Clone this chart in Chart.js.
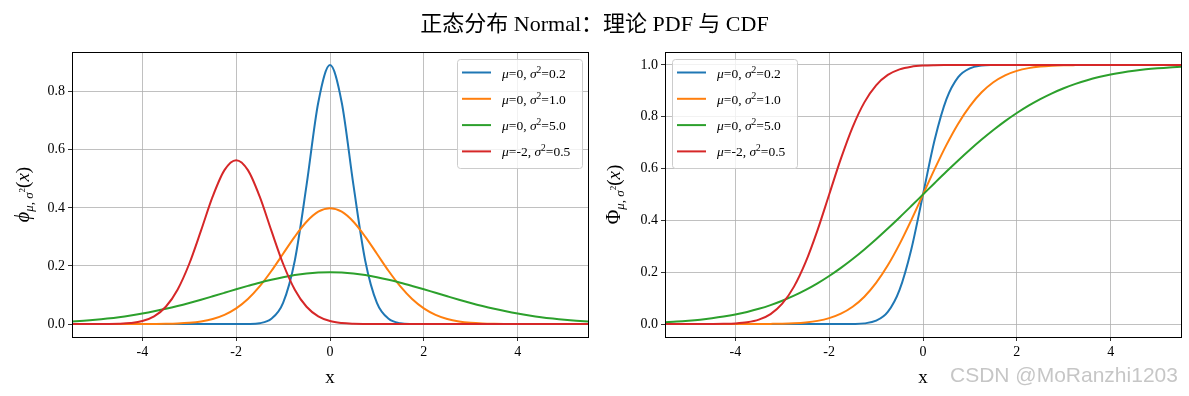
<!DOCTYPE html>
<html>
<head>
<meta charset="utf-8">
<script src="https://cdn.jsdelivr.net/npm/chart.js@4.4.1/dist/chart.umd.min.js"></script>
<style>
  body { margin: 0; background: #fff; }
  #wrap { position: relative; width: 1189px; height: 396px; overflow: hidden; }
  #title { position: absolute; left: 0; top: 5px; width: 1189px; text-align: center;
           font-family: "Liberation Serif", "Noto Sans CJK SC", serif; font-size: 22px; color: #000; }
  canvas { position: absolute; top: 0; }
  #pdf { left: 0; }
  #cdf { left: 594px; }
  #mark { position: absolute; left: 950px; top: 363px; font-family: "Liberation Sans", sans-serif;
          font-size: 21px; color: rgba(160,160,160,0.6); white-space: nowrap; }
</style>
</head>
<body>
<div id="wrap">
  <canvas id="pdf" width="600" height="396"></canvas>
  <canvas id="cdf" width="595" height="396"></canvas>
  <div id="title">正态分布 Normal：理论 PDF 与 CDF</div>
  <div id="mark">CSDN @MoRanzhi1203</div>
</div>
<script>
const xs = [-5.5, -5.25, -5, -4.75, -4.5, -4.25, -4, -3.75, -3.5, -3.25, -3, -2.75, -2.5, -2.25, -2, -1.75, -1.5, -1.25, -1, -0.75, -0.5, -0.25,
            0, 0.25, 0.5, 0.75, 1, 1.25, 1.5, 1.75, 2, 2.25, 2.5, 2.75, 3, 3.25, 3.5, 3.75, 4, 4.25, 4.5, 4.75, 5, 5.25, 5.5];

const seriesNames = [
    { mu: "0", s2: "0.2" },
    { mu: "0", s2: "1.0" },
    { mu: "0", s2: "5.0" },
    { mu: "-2", s2: "0.5" }
];
const colors = ["#1f77b4", "#ff7f0e", "#2ca02c", "#d62728"];

// PDF values
const pdfBlue = [0, 0, 0, 0, 0, 0, 0, 0, 0, 0, 0, 0, 0, 0, 0, 0.0004, 0.003, 0.018, 0.073, 0.219, 0.478, 0.763,
                 0.892, 0.763, 0.478, 0.219, 0.073, 0.018, 0.003, 0.0004, 0, 0, 0, 0, 0, 0, 0, 0, 0, 0, 0, 0, 0, 0, 0];
const pdfOrange = [0, 0, 0, 0, 0, 0, 0.0001, 0.0004, 0.0009, 0.002, 0.0044, 0.0091, 0.0175, 0.0317, 0.054, 0.0863, 0.1295, 0.1826, 0.242, 0.3011, 0.3521, 0.3867,
                   0.3989, 0.3867, 0.3521, 0.3011, 0.242, 0.1826, 0.1295, 0.0863, 0.054, 0.0317, 0.0175, 0.0091, 0.0044, 0.002, 0.0009, 0.0004, 0.0001, 0, 0, 0, 0, 0, 0];
const pdfGreen = [0.0087, 0.0113, 0.0146, 0.0187, 0.0235, 0.0293, 0.036, 0.0437, 0.0524, 0.062, 0.0725, 0.0837, 0.0955, 0.1075, 0.1196, 0.1313, 0.1425, 0.1526, 0.1614, 0.1687, 0.174, 0.1773,
                  0.1784, 0.1773, 0.174, 0.1687, 0.1614, 0.1526, 0.1425, 0.1313, 0.1196, 0.1075, 0.0955, 0.0837, 0.0725, 0.062, 0.0524, 0.0437, 0.036, 0.0293, 0.0235, 0.0187, 0.0146, 0.0113, 0.0087];
const pdfRed = [0, 0, 0.0001, 0.0003, 0.0011, 0.0036, 0.0103, 0.0264, 0.0595, 0.1183, 0.2076, 0.3215, 0.4394, 0.53, 0.5642, 0.53, 0.4394, 0.3215, 0.2076, 0.1183, 0.0595, 0.0264,
                0.0103, 0.0036, 0.0011, 0.0003, 0.0001, 0, 0, 0, 0, 0, 0, 0, 0, 0, 0, 0, 0, 0, 0, 0, 0, 0, 0];

// CDF values
const cdfBlue = [0, 0, 0, 0, 0, 0, 0, 0, 0, 0, 0, 0, 0, 0, 0, 0, 0.0004, 0.0026, 0.013, 0.047, 0.132, 0.288,
                 0.5, 0.712, 0.868, 0.953, 0.987, 0.9974, 0.9996, 1, 1, 1, 1, 1, 1, 1, 1, 1, 1, 1, 1, 1, 1, 1, 1];
const cdfOrange = [0, 0, 0, 0, 0, 0, 0, 0.0001, 0.0002, 0.0006, 0.0013, 0.003, 0.0062, 0.0122, 0.0228, 0.0401, 0.0668, 0.1056, 0.1587, 0.2266, 0.3085, 0.4013,
                   0.5, 0.5987, 0.6915, 0.7734, 0.8413, 0.8944, 0.9332, 0.9599, 0.9772, 0.9878, 0.9938, 0.997, 0.9987, 0.9994, 0.9998, 0.9999, 1, 1, 1, 1, 1, 1, 1];
const cdfGreen = [0.007, 0.0094, 0.0127, 0.0168, 0.0221, 0.0287, 0.0368, 0.0468, 0.0588, 0.0731, 0.0899, 0.1094, 0.1318, 0.1571, 0.1855, 0.2169, 0.2512, 0.2881, 0.3274, 0.3687, 0.4115, 0.4555,
                  0.5, 0.5445, 0.5885, 0.6313, 0.6726, 0.7119, 0.7488, 0.7831, 0.8145, 0.8429, 0.8682, 0.8906, 0.9101, 0.9269, 0.9412, 0.9532, 0.9632, 0.9713, 0.9779, 0.9832, 0.9873, 0.9906, 0.993];
const cdfRed = [0, 0, 0, 0.0001, 0.0002, 0.0007, 0.0023, 0.0067, 0.0169, 0.0385, 0.0786, 0.1444, 0.2398, 0.3618, 0.5, 0.6382, 0.7602, 0.8556, 0.9214, 0.9615, 0.9831, 0.9933,
                0.9977, 0.9993, 0.9998, 1, 1, 1, 1, 1, 1, 1, 1, 1, 1, 1, 1, 1, 1, 1, 1, 1, 1, 1, 1];

const xTicks = [-4, -2, 0, 2, 4];
const pdfTicks = [0, 0.2, 0.4, 0.6, 0.8];
const cdfTicks = [0, 0.2, 0.4, 0.6, 0.8, 1.0];

const SERIF = '"Liberation Serif", "DejaVu Serif", serif';

function makeDatasets(lists) {
    return lists.map(function(vals, i) {
        return {
            label: "mu=" + seriesNames[i].mu + ", s2=" + seriesNames[i].s2,
            data: xs.map(function(x, j) { return { x: x, y: vals[j] }; }),
            borderColor: colors[i],
            borderWidth: 2,
            pointRadius: 0,
            fill: false,
            cubicInterpolationMode: "monotone",
            order: 3 - i
        };
    });
}

// draws text pieces one after another: [text, font, dy]
function drawPieces(ctx, pieces, x, y, align) {
    let total = 0;
    pieces.forEach(function(p) { ctx.font = p[1]; total += ctx.measureText(p[0]).width; });
    let cx = align === "center" ? x - total / 2 : x;
    ctx.textBaseline = "alphabetic";
    ctx.textAlign = "left";
    pieces.forEach(function(p) {
        ctx.font = p[1];
        ctx.fillText(p[0], cx, y + (p[2] || 0));
        cx += ctx.measureText(p[0]).width;
    });
}

function legendPieces(n) {
    return [
        ["μ", "italic 13.5px " + SERIF],
        ["=" + n.mu + ", ", "13.5px " + SERIF],
        ["σ", "italic 13.5px " + SERIF],
        ["2", "9.5px " + SERIF, -5],
        ["=" + n.s2, "13.5px " + SERIF]
    ];
}

const framePlugin = {
    id: "frame",
    afterDraw: function(chart, args, opts) {
        const ctx = chart.ctx;
        const a = chart.chartArea;
        ctx.save();
        ctx.strokeStyle = "#000";
        ctx.lineWidth = 1;
        ctx.strokeRect(Math.round(a.left) + 0.5, Math.round(a.top) + 0.5, Math.round(a.right - a.left), Math.round(a.bottom - a.top));

        // legend box
        const bw = 125, bh = 109;
        const bx = opts.legendSide === "right" ? a.right - 6 - bw : a.left + 7;
        const by = a.top + 7;
        ctx.beginPath();
        ctx.roundRect(bx + 0.5, by + 0.5, bw, bh, 3);
        ctx.fillStyle = "rgba(255,255,255,0.8)";
        ctx.fill();
        ctx.strokeStyle = "#cccccc";
        ctx.stroke();
        seriesNames.forEach(function(n, i) {
            const ly = by + 13.5 + i * 26.3;
            ctx.strokeStyle = colors[i];
            ctx.lineWidth = 2;
            ctx.beginPath();
            ctx.moveTo(bx + 5, ly);
            ctx.lineTo(bx + 34, ly);
            ctx.stroke();
            ctx.fillStyle = "#000";
            drawPieces(ctx, legendPieces(n), bx + 45, ly + 5, "left");
        });

        // x label
        ctx.fillStyle = "#000";
        drawPieces(ctx, [["x", "19px " + SERIF]], (a.left + a.right) / 2, 383, "center");

        // y label, rotated
        ctx.translate(opts.ylabelX, (a.top + a.bottom) / 2);
        ctx.rotate(-Math.PI / 2);
        drawPieces(ctx, [
            [opts.sym, opts.symFont],
            ["μ, σ", "italic 13px " + SERIF, 4],
            ["2", "9px " + SERIF, -4],
            ["(", "19px " + SERIF],
            ["x", "italic 19px " + SERIF],
            [")", "19px " + SERIF]
        ], 0, 7, "center");
        ctx.restore();
    }
};

function makeChart(id, lists, yMin, yMax, yTicks, padRight, yWidth, opts) {
    return new Chart(document.getElementById(id), {
        type: "line",
        data: { datasets: makeDatasets(lists) },
        plugins: [framePlugin],
        options: {
            responsive: false,
            animation: false,
            layout: { padding: { left: 0, right: padRight, top: 52, bottom: 0 } },
            plugins: {
                legend: { display: false },
                tooltip: { enabled: false },
                frame: opts
            },
            scales: {
                x: {
                    type: "linear",
                    min: -5.5,
                    max: 5.5,
                    afterBuildTicks: function(scale) { scale.ticks = xTicks.map(function(v) { return { value: v }; }); },
                    afterFit: function(scale) { scale.height = 59; },
                    grid: { color: "#b0b0b0", lineWidth: 0.8, tickColor: "#000", tickLength: 4 },
                    border: { display: false },
                    ticks: {
                        color: "#000",
                        padding: 3,
                        maxRotation: 0,
                        font: { family: SERIF, size: 14 },
                        callback: function(v) { return String(v); }
                    }
                },
                y: {
                    min: yMin,
                    max: yMax,
                    afterBuildTicks: function(scale) { scale.ticks = yTicks.map(function(v) { return { value: v }; }); },
                    afterFit: function(scale) { scale.width = yWidth; },
                    grid: { color: "#b0b0b0", lineWidth: 0.8, tickColor: "#000", tickLength: 4 },
                    border: { display: false },
                    ticks: {
                        color: "#000",
                        padding: 3,
                        font: { family: SERIF, size: 14 },
                        callback: function(v) { return Number(v).toFixed(1); }
                    }
                }
            }
        }
    });
}

makeChart("pdf", [pdfBlue, pdfOrange, pdfGreen, pdfRed], -0.0446, 0.9367, pdfTicks, 12, 72,
    { legendSide: "right", ylabelX: 22, sym: "ϕ", symFont: "italic 20px " + SERIF });
makeChart("cdf", [cdfBlue, cdfOrange, cdfGreen, cdfRed], -0.05, 1.05, cdfTicks, 8, 71,
    { legendSide: "left", ylabelX: 19, sym: "Φ", symFont: "20px " + SERIF });
</script>
</body>
</html>
